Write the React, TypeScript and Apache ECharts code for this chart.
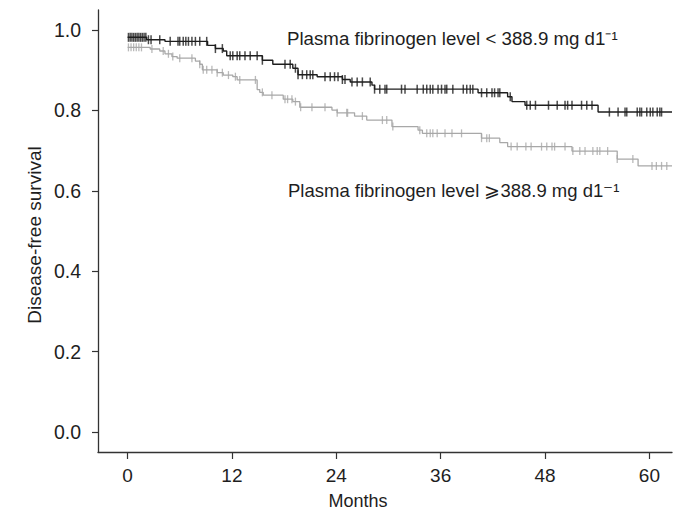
import React, { useEffect, useRef } from "react";
import * as echarts from "echarts";

// Kaplan–Meier step data (months, survival)
const lowTimes = [0, 2.2, 4.3, 9.2, 10.1, 11.0, 11.4, 15.5, 16.7, 19.0, 19.6, 21.8, 24.7, 25.6, 28.1, 28.4, 40.3, 43.7, 44.2, 45.7, 54.1];
const lowSurv = [0.982, 0.976, 0.972, 0.962, 0.954, 0.948, 0.936, 0.925, 0.915, 0.905, 0.889, 0.884, 0.877, 0.871, 0.863, 0.853, 0.844, 0.834, 0.822, 0.813, 0.796];

const highTimes = [0, 2.6, 3.7, 4.3, 5.1, 5.7, 7.8, 8.3, 8.6, 10.3, 11.0, 12.1, 12.6, 14.9, 15.2, 15.6, 17.9, 19.0, 19.8, 23.5, 24.1, 26.1, 27.5, 30.4, 33.4, 33.9, 40.7, 42.8, 43.7, 51.1, 56.3, 58.7];
const highSurv = [0.957, 0.953, 0.948, 0.941, 0.934, 0.93, 0.923, 0.915, 0.901, 0.894, 0.888, 0.884, 0.876, 0.852, 0.845, 0.838, 0.828, 0.822, 0.808, 0.801, 0.794, 0.786, 0.776, 0.76, 0.751, 0.743, 0.731, 0.72, 0.71, 0.699, 0.679, 0.662];

const followUpEnd = 62.6;

// Censoring times (months)
const lowCensor = [0.1, 0.3, 0.5, 0.7, 0.9, 1.1, 1.3, 1.5, 1.7, 1.9, 2.1, 2.4, 2.7, 3.7, 4.9, 5.8, 6.0, 6.4, 6.7, 7.0, 7.4, 7.8, 8.3, 9.1, 10.1, 10.9, 11.8, 12.1, 12.6, 12.9, 13.5, 14.1, 14.9, 15.5, 18.1, 18.7, 19.3, 19.6, 20.1, 20.6, 21.0, 21.3, 22.7, 23.3, 23.8, 24.2, 24.7, 25.0, 25.8, 26.4, 27.0, 27.9, 28.4, 29.0, 29.6, 29.8, 31.5, 31.9, 33.3, 34.0, 34.4, 34.8, 35.1, 35.7, 36.1, 36.5, 36.7, 37.4, 38.6, 39.0, 39.4, 39.7, 40.7, 41.3, 41.9, 42.2, 42.6, 42.8, 44.0, 45.9, 46.3, 46.9, 48.4, 49.4, 50.3, 50.6, 51.1, 52.2, 52.8, 53.4, 55.4, 56.4, 57.2, 57.4, 58.6, 58.9, 59.1, 59.7, 60.1, 60.4, 60.9, 61.2, 61.4];
const highCensor = [0.1, 0.4, 0.7, 1.0, 1.3, 1.6, 2.8, 4.1, 4.7, 5.2, 6.0, 7.4, 8.3, 8.7, 9.1, 9.7, 10.3, 10.9, 11.6, 12.4, 12.9, 14.7, 15.5, 16.6, 18.1, 18.4, 18.9, 19.3, 19.9, 21.2, 22.7, 24.1, 25.2, 25.3, 27.0, 29.3, 29.8, 30.5, 33.6, 34.4, 34.8, 35.1, 35.6, 36.5, 37.3, 38.4, 40.7, 41.3, 41.6, 44.1, 44.8, 45.8, 46.4, 47.6, 48.2, 48.8, 49.1, 50.3, 51.2, 52.0, 52.6, 53.5, 54.0, 54.3, 55.2, 56.3, 58.1, 60.3, 60.8, 61.4, 62.0];

const xTicks = [0, 12, 24, 36, 48, 60];
const yTicks = [0, 0.2, 0.4, 0.6, 0.8, 1.0];

const labelLow = "Plasma fibrinogen level < 388.9 mg d1\u207B\u00B9";
const labelHigh = "Plasma fibrinogen level \u2A7E388.9 mg d1\u207B\u00B9";
const xName = "Months";
const yName = "Disease-free survival";

const FONT = '"Liberation Sans", Arial, Helvetica, sans-serif';
const DARK = "#1e1e1e";
const GRAY = "#a8a8a8";

function survAt(times: number[], surv: number[], t: number) {
  let v = surv[0];
  for (let i = 0; i < times.length; i++) if (times[i] <= t) v = surv[i];
  return v;
}

function stepData(times: number[], surv: number[]) {
  const d = times.map((t, i) => [t, surv[i]]);
  d.push([followUpEnd, surv[surv.length - 1]]);
  return d;
}

export default function App() {
  const ref = useRef<HTMLDivElement>(null);
  useEffect(() => {
    if (!ref.current) return;
    const chart = echarts.init(ref.current, null, { renderer: "svg" });
    chart.setOption({
      animation: false,
      backgroundColor: "#ffffff",
      grid: { left: 98, right: 8, top: 10, bottom: 63, containLabel: false },
      xAxis: {
        type: "value",
        min: -3.4,
        max: 62.6,
        axisLine: { show: true, onZero: false, lineStyle: { color: "#333", width: 1.3 } },
        axisTick: { show: true, customValues: xTicks, length: 7, lineStyle: { color: "#333", width: 1.2 } },
        axisLabel: { customValues: xTicks, margin: 14, fontSize: 19, color: DARK, fontFamily: FONT },
        splitLine: { show: false },
      },
      yAxis: {
        type: "value",
        min: -0.05,
        max: 1.05,
        axisLine: { show: true, onZero: false, lineStyle: { color: "#333", width: 1.3 } },
        axisTick: { show: true, customValues: yTicks, length: 6, lineStyle: { color: "#333", width: 1.2 } },
        axisLabel: {
          customValues: yTicks,
          margin: 17,
          fontSize: 19.5,
          color: DARK,
          fontFamily: FONT,
          formatter: (v: number) => v.toFixed(1),
        },
        splitLine: { show: false },
      },
      graphic: [
        { type: "text", x: 287, y: 38, style: { text: labelLow, fontSize: 18.7, fontFamily: FONT, fill: DARK, verticalAlign: "middle" } },
        { type: "text", x: 288, y: 190, style: { text: labelHigh, fontSize: 18.5, fontFamily: FONT, fill: DARK, verticalAlign: "middle" } },
        { type: "text", x: 358, y: 501, style: { text: xName, fontSize: 18, fontFamily: FONT, fill: DARK, align: "center", verticalAlign: "middle" } },
        { type: "text", x: 34, y: 235, rotation: Math.PI / 2, style: { text: yName, fontSize: 19, fontFamily: FONT, fill: DARK, align: "center", verticalAlign: "middle" } },
      ],
      series: [
        {
          type: "line",
          step: "end",
          data: stepData(highTimes, highSurv),
          symbol: "none",
          lineStyle: { color: GRAY, width: 1.3 },
          z: 2,
        },
        {
          type: "scatter",
          data: highCensor.map((t) => [t, survAt(highTimes, highSurv, t)]),
          symbol: "rect",
          symbolSize: [1.3, 8],
          itemStyle: { color: GRAY },
          z: 2,
        },
        {
          type: "line",
          step: "end",
          data: stepData(lowTimes, lowSurv),
          symbol: "none",
          lineStyle: { color: DARK, width: 1.4 },
          z: 3,
        },
        {
          type: "scatter",
          data: lowCensor.map((t) => [t, survAt(lowTimes, lowSurv, t)]),
          symbol: "rect",
          symbolSize: [1.5, 9],
          itemStyle: { color: DARK },
          z: 3,
        },
      ],
    });
    return () => chart.dispose();
  }, []);
  return <div ref={ref} style={{ width: 680, height: 515, position: "absolute", left: 0, top: 0 }} />;
}
